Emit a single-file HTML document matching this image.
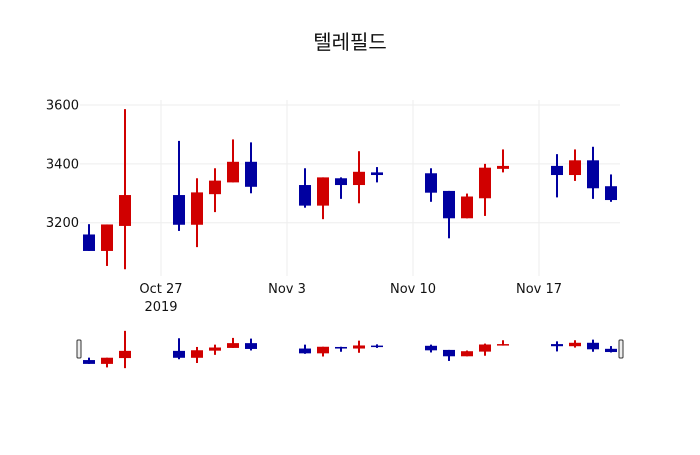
<!DOCTYPE html>
<html><head><meta charset="utf-8"><style>
body{margin:0;background:#fff;}
svg{font-family:"DejaVu Sans","Noto Sans CJK KR",sans-serif;}
</style></head><body>
<svg id="chart" width="700" height="450" xmlns="http://www.w3.org/2000/svg">
<rect width="700" height="450" fill="#fff"/>
<text x="350" y="49" text-anchor="middle" font-size="20" fill="#111">텔레필드</text>
<g id="grid"></g><g id="main"></g><g id="axes"></g><g id="slider"></g>
</svg>
<script>
const dates=["2019-10-23","2019-10-24","2019-10-25","2019-10-28","2019-10-29","2019-10-30","2019-10-31","2019-11-01","2019-11-04","2019-11-05","2019-11-06","2019-11-07","2019-11-08","2019-11-11","2019-11-12","2019-11-13","2019-11-14","2019-11-15","2019-11-18","2019-11-19","2019-11-20","2019-11-21"];
const opens=[3160,3104,3189,3294,3193,3297,3337,3407,3328,3258,3351,3328,3371,3368,3308,3215,3283,3383,3393,3362,3412,3324];
const highs=[3195,3194,3586,3478,3351,3385,3483,3473,3385,3354,3354,3443,3389,3385,3308,3299,3400,3449,3433,3449,3458,3364];
const lows=[3104,3053,3042,3172,3117,3236,3337,3300,3251,3212,3281,3266,3337,3271,3147,3215,3223,3371,3286,3342,3281,3271];
const closes=[3104,3194,3294,3193,3303,3343,3407,3322,3258,3354,3328,3373,3362,3302,3215,3289,3387,3393,3362,3412,3317,3277];
const yTicks=[3200,3400,3600];
const xTicks=["2019-10-27","2019-11-03","2019-11-10","2019-11-17"];
const xTickLabels=["Oct 27","Nov 3","Nov 10","Nov 17"];
const NS="http://www.w3.org/2000/svg";
const L=80,R=620,T=100,B=276;
const d0=Date.UTC(2019,9,22,12),d1=Date.UTC(2019,10,21,12);
const yMin=3015,yMax=3613;
function dt(s){const p=s.split("-");return Date.UTC(+p[0],+p[1]-1,+p[2]);}
function x(s){return L+(dt(s)-d0)/(d1-d0)*(R-L);}
function y(v){return 105+(3600-v)*(222.7-105)/400;}
function ys(v){return 329+(yMax-v)/(yMax-yMin)*41;}
function mk(tag,attrs,parent){const e=document.createElementNS(NS,tag);for(const k in attrs)e.setAttribute(k,attrs[k]);parent.appendChild(e);return e;}
const grid=document.getElementById('grid'),axes=document.getElementById('axes'),main=document.getElementById('main'),sl=document.getElementById('slider');
yTicks.forEach(v=>{
 const g=mk('line',{x1:L,x2:R,y1:y(v),y2:y(v),stroke:'#eee','stroke-width':1},grid);
 
 const t=mk('text',{x:L-1,y:y(v)+4.5,'text-anchor':'end','font-size':13,fill:'#111'},axes);
 t.textContent=v;
});
xTicks.forEach((s,i)=>{
 const g=mk('line',{x1:x(s),x2:x(s),y1:T,y2:B,stroke:'#eee','stroke-width':1},grid);
 
 const t=mk('text',{x:x(s),y:293,'text-anchor':'middle','font-size':13,fill:'#111'},axes);
 t.textContent=xTickLabels[i];
});
const yr=mk('text',{x:x(xTicks[0]),y:311,'text-anchor':'middle','font-size':13,fill:'#111'},axes);
yr.textContent="2019";
const W=12;
function candle(parent,i,yf,ww,lw){
 const up=closes[i]>=opens[i];const c=up?'#d00000':'#0000a0';
 const g=mk('g',{},parent);
 
 const cx=x(dates[i]);
 mk('line',{x1:cx,x2:cx,y1:yf(highs[i]),y2:yf(lows[i]),stroke:c,'stroke-width':lw},g);
 const t=yf(Math.max(opens[i],closes[i])),b=yf(Math.min(opens[i],closes[i]));
 mk('rect',{x:cx-ww/2,y:t,width:ww,height:Math.max(b-t,1.5),fill:c},g);
}
dates.forEach((d,i)=>candle(main,i,y,W,2));
const sb=mk('rect',{x:L,y:329,width:R-L,height:41,fill:'#fff',stroke:'none'},sl);

dates.forEach((d,i)=>candle(sl,i,ys,W,2));
[[L-1],[R+1]].forEach((p,k)=>{
 const h=mk('rect',{x:p[0]-2,y:340,width:4,height:18,rx:1,fill:'#eee',stroke:'#333','stroke-width':1},sl);
 
});
</script>
</body></html>
